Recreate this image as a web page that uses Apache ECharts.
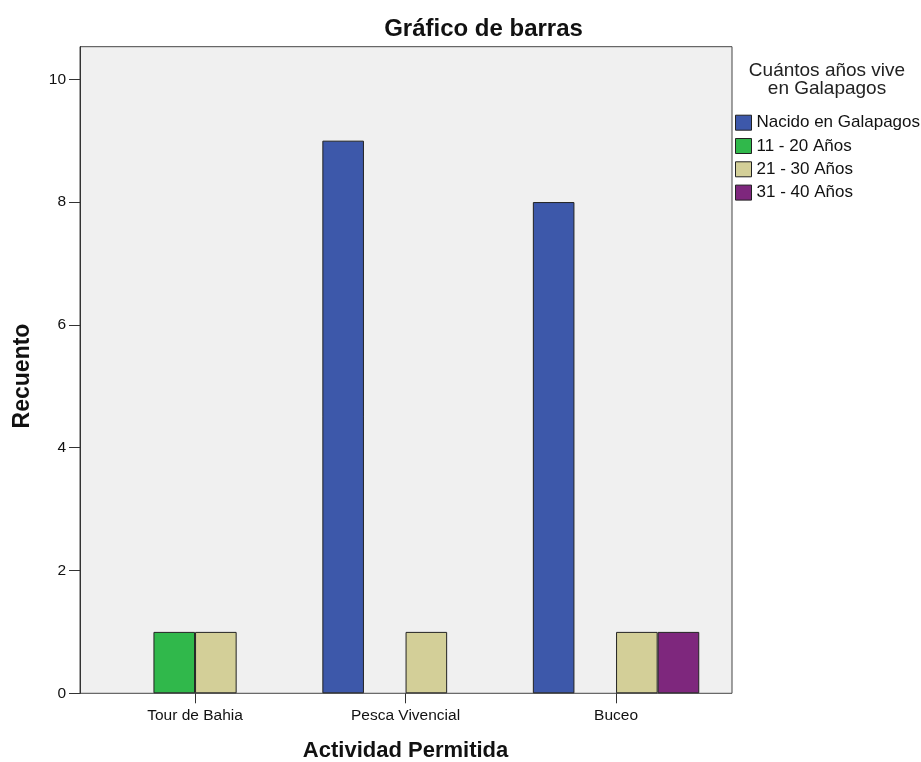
<!DOCTYPE html>
<html>
<head>
<meta charset="utf-8">
<script src="https://cdn.jsdelivr.net/npm/echarts@6/dist/echarts.min.js"></script>
<style>html,body{margin:0;padding:0;background:#fff;}#c{width:921px;height:762px;}</style>
</head>
<body>
<div id="c"></div>
<script>
var categories = ['Tour de Bahia', 'Pesca Vivencial', 'Buceo'];
var seriesNames = ['Nacido en Galapagos', '11 - 20 Años', '21 - 30 Años', '31 - 40 Años'];
var nacido = [0, 9, 8];
var anios11a20 = [1, 0, 0];
var anios21a30 = [1, 1, 1];
var anios31a40 = [0, 0, 1];
var yTicks = [0, 2, 4, 6, 8, 10];
var yMax = 10.53;

var colors = ['#3D58AA', '#30B84B', '#D3CF98', '#7E277D'];
var values = [nacido, anios11a20, anios21a30, anios31a40];
var FONT = "'Liberation Sans', Arial, sans-serif";

var chart = echarts.init(document.getElementById('c'));
var series = seriesNames.map(function (name, i) {
  return {
    name: name,
    type: 'bar',
    xAxisIndex: 1,
    yAxisIndex: 1,
    barWidth: 41.6,
    barGap: '0%',
    itemStyle: { color: colors[i], borderColor: '#222', borderWidth: 1 },
    emphasis: { disabled: true },
    data: values[i].map(function (v) { return v === 0 ? null : v; })
  };
});

chart.setOption({
  animation: false,
  backgroundColor: '#fff',
  textStyle: { fontFamily: FONT },
  title: [
    {
      text: 'Gráfico de barras',
      left: 483.5, top: 16, textAlign: 'center', padding: 0,
      textStyle: { fontFamily: FONT, fontSize: 24, fontWeight: 'bold', color: '#111', lineHeight: 26 }
    },
    {
      text: 'Cuántos años vive\nen Galapagos',
      left: 827, top: 62, textAlign: 'center', padding: 0,
      textStyle: { fontFamily: FONT, fontSize: 19, fontWeight: 'normal', color: '#222', lineHeight: 18 }
    }
  ],
  legend: {
    orient: 'vertical',
    left: 735, top: 114.2,
    padding: 0,
    icon: 'rect',
    itemWidth: 16, itemHeight: 15, itemGap: 6.3,
    selectedMode: false,
    itemStyle: { borderColor: '#222', borderWidth: 1 },
    textStyle: { fontFamily: FONT, fontSize: 17, color: '#111', lineHeight: 15 },
    data: seriesNames
  },
  grid: [
    { left: 80, right: 189, top: 46.7, bottom: 68.7, outerBoundsMode: 'none', containLabel: false, show: true, backgroundColor: '#F0F0F0', borderColor: '#444', borderWidth: 1 },
    { left: 89.8, right: 199.7, top: 46.7, bottom: 68.7, outerBoundsMode: 'none', containLabel: false }
  ],
  xAxis: [
    { type: 'category', gridIndex: 0, data: categories, show: false },
    {
      type: 'category', gridIndex: 1, data: categories,
      axisLine: { show: false },
      axisTick: { show: true, alignWithLabel: true, length: 10, lineStyle: { color: '#333' } },
      axisLabel: { fontFamily: FONT, fontSize: 15.5, color: '#111', margin: 14, interval: 0 },
      name: 'Actividad Permitida', nameLocation: 'middle', nameGap: 47,
      nameTextStyle: { fontFamily: FONT, fontSize: 22, fontWeight: 'bold', color: '#111' }
    }
  ],
  yAxis: [
    {
      type: 'value', gridIndex: 0, min: 0, max: yMax,
      axisLine: { show: true, lineStyle: { color: '#333', width: 1 } },
      axisTick: { show: true, length: 11, lineStyle: { color: '#333' }, customValues: yTicks },
      axisLabel: { fontFamily: FONT, fontSize: 15.5, color: '#111', margin: 14, customValues: yTicks },
      splitLine: { show: false },
      name: 'Recuento', nameLocation: 'middle', nameGap: 46,
      nameTextStyle: { fontFamily: FONT, fontSize: 23, fontWeight: 'bold', color: '#111', padding: [0, 12, 0, 0] }
    },
    { type: 'value', gridIndex: 1, min: 0, max: yMax, show: false, splitLine: { show: false } }
  ],
  series: series
});
</script>
</body>
</html>
